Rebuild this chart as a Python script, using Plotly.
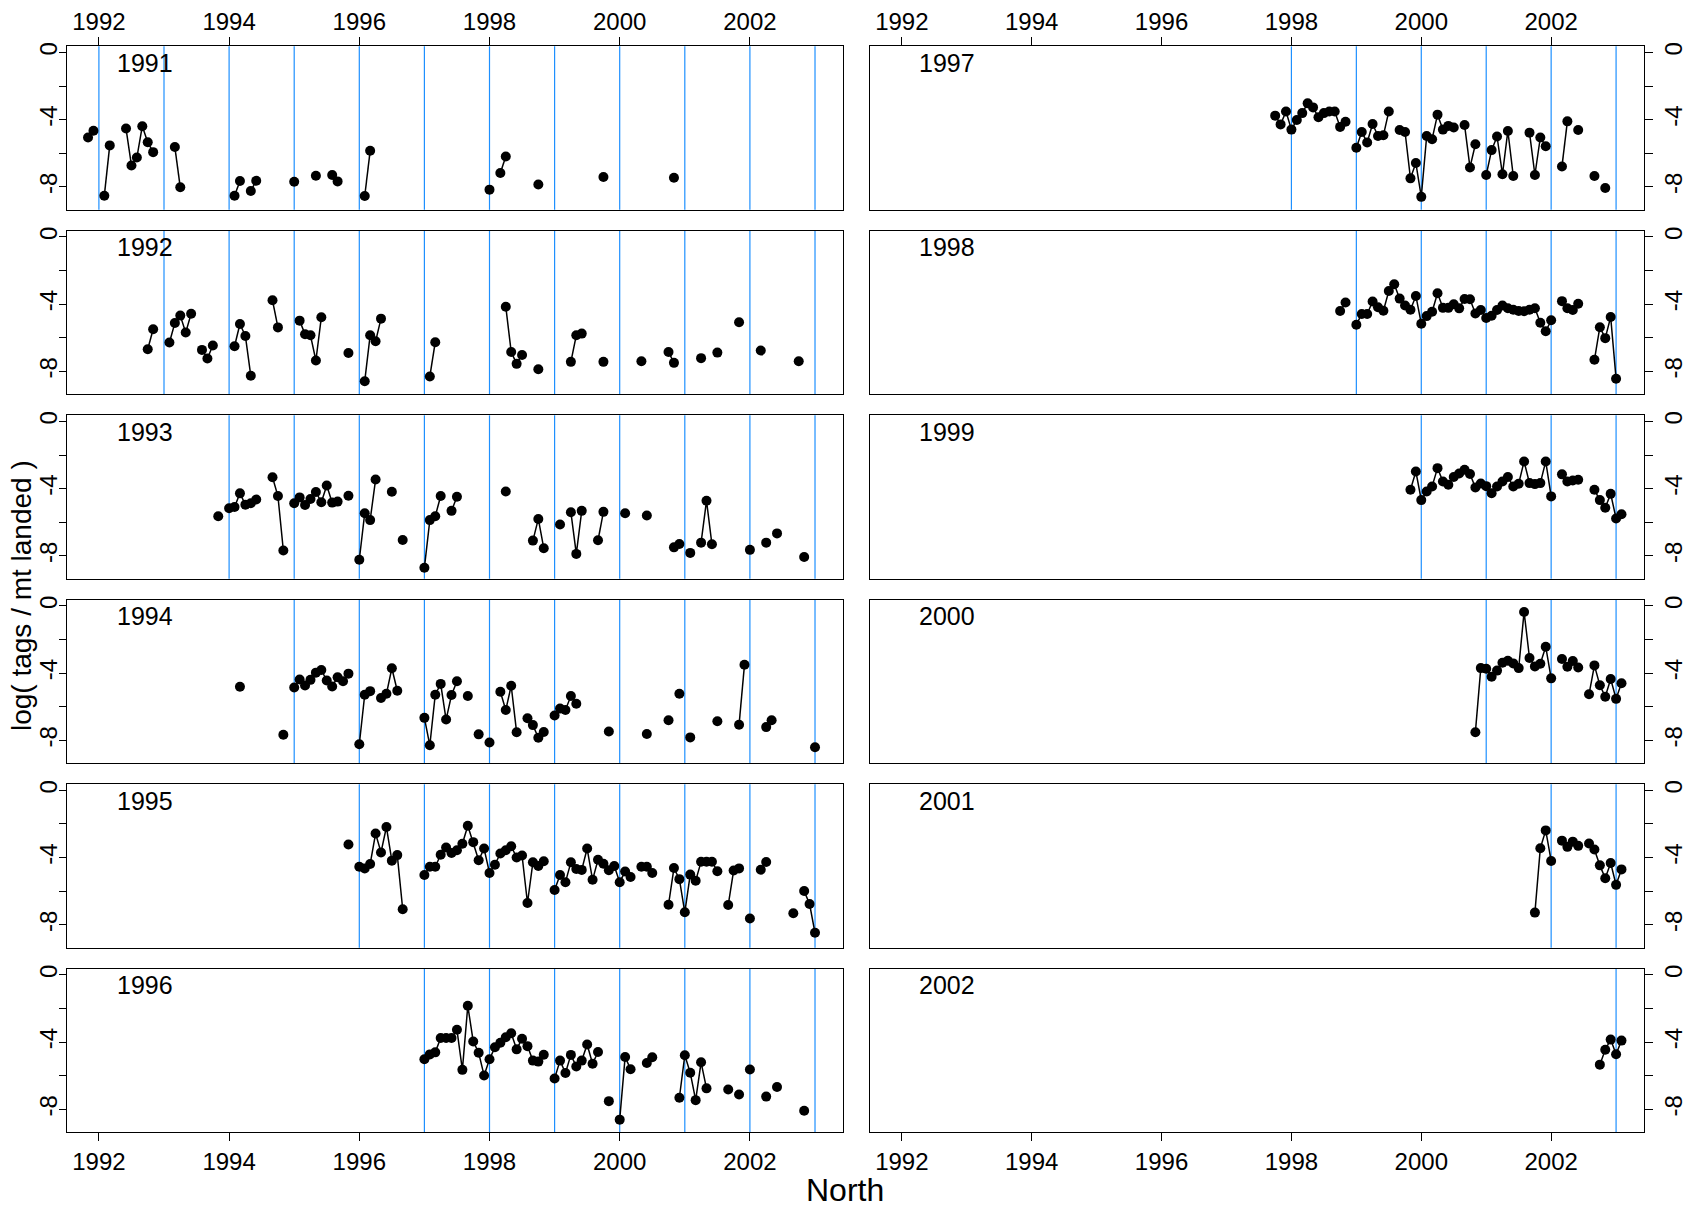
import plotly.graph_objects as go

# ---------------- data ----------------
# months are counted from January 1992 (0 = Jan 1992, 12 = Jan 1993, ...)
release_years = [1991, 1992, 1993, 1994, 1995, 1996, 1997, 1998, 1999, 2000, 2001, 2002]

mon_1991 = [-2, -1, 1, 2, 5, 6, 7, 8, 9, 10, 14, 15, 25, 26, 28, 29, 36, 40, 43, 44, 49, 50, 72, 74, 75, 81, 93, 106]
val_1991 = [-5.06, -4.66, -8.52, -5.53, -4.53, -6.72, -6.25, -4.39, -5.34, -5.93, -5.63, -8.02, -8.52, -7.65,
            -8.24, -7.63, -7.69, -7.33, -7.29, -7.67, -8.54, -5.85, -8.16, -7.17, -6.19, -7.85, -7.41, -7.45]

mon_1992 = [9, 10, 13, 14, 15, 16, 17, 19, 20, 21, 25, 26, 27, 28, 32, 33, 37, 38, 39, 40, 41, 46, 49, 50, 51, 52,
            61, 62, 75, 76, 77, 78, 81, 87, 88, 89, 93, 100, 105, 106, 111, 114, 118, 122, 129]
val_1992 = [-6.68, -5.49, -6.28, -5.12, -4.68, -5.69, -4.57, -6.72, -7.23, -6.46, -6.50, -5.18, -5.89, -8.26,
            -3.77, -5.38, -4.98, -5.79, -5.85, -7.35, -4.78, -6.90, -8.58, -5.85, -6.21, -4.86, -8.30, -6.26,
            -4.15, -6.84, -7.55, -7.02, -7.87, -7.43, -5.85, -5.75, -7.43, -7.39, -6.84, -7.49, -7.21, -6.88,
            -5.08, -6.76, -7.39]

mon_1993 = [22, 24, 25, 26, 27, 28, 29, 32, 33, 34, 36, 37, 38, 39, 40, 41, 42, 43, 44, 46, 48, 49, 50, 51, 54, 56,
            60, 61, 62, 63, 65, 66, 75, 80, 81, 82, 85, 87, 88, 89, 92, 93, 97, 101, 106, 107, 109, 111, 112, 113,
            120, 123, 125, 130]
val_1993 = [-5.64, -5.17, -5.09, -4.28, -4.95, -4.87, -4.64, -3.32, -4.44, -7.68, -4.87, -4.52, -4.97, -4.62,
            -4.20, -4.81, -3.81, -4.83, -4.77, -4.42, -8.23, -5.46, -5.87, -3.46, -4.18, -7.05, -8.70, -5.87,
            -5.64, -4.44, -5.32, -4.48, -4.17, -7.09, -5.80, -7.54, -6.13, -5.40, -7.88, -5.32, -7.07, -5.38,
            -5.46, -5.60, -7.49, -7.29, -7.82, -7.21, -4.72, -7.31, -7.64, -7.21, -6.66, -8.06]

mon_1994 = [26, 34, 36, 37, 38, 39, 40, 41, 42, 43, 44, 45, 46, 48, 49, 50, 52, 53, 54, 55, 60, 61, 62, 63, 64, 65,
            66, 68, 70, 72, 74, 75, 76, 77, 79, 80, 81, 82, 84, 85, 86, 87, 88, 94, 101, 105, 107, 109, 114, 118,
            119, 123, 124, 132]
val_1994 = [-4.81, -7.66, -4.85, -4.38, -4.73, -4.40, -3.97, -3.81, -4.44, -4.79, -4.24, -4.48, -4.03, -8.23,
            -5.28, -5.07, -5.48, -5.23, -3.71, -5.05, -6.66, -8.29, -5.28, -4.64, -6.76, -5.30, -4.48, -5.36,
            -7.64, -8.13, -5.11, -6.19, -4.75, -7.52, -6.68, -7.09, -7.84, -7.50, -6.52, -6.11, -6.19, -5.36,
            -5.82, -7.47, -7.62, -6.80, -5.23, -7.82, -6.86, -7.07, -3.50, -7.21, -6.80, -8.41]

mon_1995 = [46, 48, 49, 50, 51, 52, 53, 54, 55, 56, 60, 61, 62, 63, 64, 65, 66, 67, 68, 69, 70, 71, 72, 73, 74, 75,
            76, 77, 78, 79, 80, 81, 82, 84, 85, 86, 87, 88, 89, 90, 91, 92, 93, 94, 95, 96, 97, 98, 100, 101, 102,
            105, 106, 107, 108, 109, 110, 111, 112, 113, 114, 116, 117, 118, 120, 122, 123, 128, 130, 131, 132]
val_1995 = [-3.22, -4.54, -4.64, -4.38, -2.57, -3.69, -2.18, -4.18, -3.85, -7.07, -5.03, -4.54, -4.54, -3.83,
            -3.40, -3.73, -3.56, -3.18, -2.10, -3.08, -4.16, -3.46, -4.91, -4.42, -3.75, -3.56, -3.32, -3.99,
            -3.87, -6.70, -4.28, -4.50, -4.22, -5.93, -5.03, -5.46, -4.28, -4.68, -4.73, -3.46, -5.32, -4.13,
            -4.36, -4.75, -4.50, -5.46, -4.83, -5.15, -4.54, -4.54, -4.91, -6.80, -4.62, -5.28, -7.25, -5.01,
            -5.38, -4.24, -4.24, -4.24, -4.81, -6.82, -4.77, -4.64, -7.62, -4.72, -4.26, -7.31, -5.99, -6.76,
            -8.47]

mon_1996 = [60, 61, 62, 63, 64, 65, 66, 67, 68, 69, 70, 71, 72, 73, 74, 75, 76, 77, 78, 79, 80, 81, 82, 84, 85, 86,
            87, 88, 89, 90, 91, 92, 94, 96, 97, 98, 101, 102, 107, 108, 109, 110, 111, 112, 116, 118, 120, 123,
            125, 130]
val_1996 = [-5.02, -4.73, -4.61, -3.76, -3.76, -3.76, -3.27, -5.65, -1.84, -3.96, -4.63, -5.98, -5.02, -4.31,
            -4.04, -3.71, -3.47, -4.43, -3.80, -4.24, -5.10, -5.16, -4.75, -6.16, -5.10, -5.84, -4.76, -5.45,
            -5.10, -4.14, -5.29, -4.59, -7.51, -8.61, -4.88, -5.61, -5.24, -4.90, -7.31, -4.78, -5.82, -7.45,
            -5.20, -6.75, -6.82, -7.12, -5.63, -7.24, -6.67, -8.08]

mon_1997 = [69, 70, 71, 72, 73, 74, 75, 76, 77, 78, 79, 80, 81, 82, 84, 85, 86, 87, 88, 89, 90, 92, 93, 94, 95, 96,
            97, 98, 99, 100, 101, 102, 104, 105, 106, 108, 109, 110, 111, 112, 113, 116, 117, 118, 119, 122, 123,
            125, 128, 130]
val_1997 = [-3.76, -4.28, -3.51, -4.59, -4.02, -3.61, -3.03, -3.27, -3.86, -3.61, -3.51, -3.51, -4.43, -4.12,
            -5.67, -4.73, -5.36, -4.26, -4.97, -4.93, -3.51, -4.61, -4.73, -7.49, -6.58, -8.59, -4.97, -5.16,
            -3.70, -4.59, -4.37, -4.47, -4.32, -6.84, -5.46, -7.29, -5.81, -5.00, -7.25, -4.67, -7.35, -4.77,
            -7.29, -5.06, -5.58, -6.78, -4.10, -4.61, -7.35, -8.06]

mon_1998 = [81, 82, 84, 85, 86, 87, 88, 89, 90, 91, 92, 93, 94, 95, 96, 97, 98, 99, 100, 101, 102, 103, 104, 105,
            106, 107, 108, 109, 110, 111, 112, 113, 114, 115, 116, 117, 118, 119, 120, 122, 123, 124, 125, 128,
            129, 130, 131, 132]
val_1998 = [-4.41, -3.90, -5.22, -4.59, -4.59, -3.84, -4.18, -4.39, -3.22, -2.82, -3.67, -4.08, -4.33, -3.51,
            -5.16, -4.71, -4.45, -3.35, -4.22, -4.22, -4.00, -4.25, -3.69, -3.71, -4.55, -4.35, -4.82, -4.69,
            -4.35, -4.08, -4.24, -4.33, -4.41, -4.42, -4.33, -4.24, -5.10, -5.61, -4.96, -3.82, -4.24, -4.35,
            -3.98, -7.31, -5.37, -6.02, -4.76, -8.43]

mon_1999 = [94, 95, 96, 97, 98, 99, 100, 101, 102, 103, 104, 105, 106, 107, 108, 109, 110, 111, 112, 113, 114,
            115, 116, 117, 118, 119, 120, 122, 123, 124, 125, 128, 129, 130, 131, 132, 133]
val_1999 = [-4.07, -2.98, -4.68, -4.17, -3.87, -2.78, -3.57, -3.77, -3.31, -3.10, -2.88, -3.13, -3.93, -3.69,
            -3.85, -4.27, -3.87, -3.57, -3.31, -3.87, -3.71, -2.38, -3.67, -3.73, -3.67, -2.38, -4.46, -3.15,
            -3.57, -3.51, -3.47, -4.07, -4.68, -5.14, -4.31, -5.77, -5.52]

mon_2000 = [106, 107, 108, 109, 110, 111, 112, 113, 114, 115, 116, 117, 118, 119, 120, 122, 123, 124, 125, 127,
            128, 129, 130, 131, 132, 133]
val_2000 = [-7.51, -3.70, -3.74, -4.21, -3.85, -3.38, -3.26, -3.42, -3.70, -0.36, -3.10, -3.60, -3.44, -2.43,
            -4.31, -3.16, -3.62, -3.28, -3.66, -5.26, -3.54, -4.72, -5.40, -4.35, -5.53, -4.60]

mon_2001 = [117, 118, 119, 120, 122, 123, 124, 125, 127, 128, 129, 130, 131, 132, 133]
val_2001 = [-7.27, -3.44, -2.38, -4.20, -2.99, -3.36, -3.05, -3.30, -3.16, -3.52, -4.46, -5.23, -4.32, -5.62,
            -4.70]

mon_2002 = [129, 130, 131, 132, 133]
val_2002 = [-5.34, -4.45, -3.85, -4.72, -3.91]

series_months = [mon_1991, mon_1992, mon_1993, mon_1994, mon_1995, mon_1996,
                 mon_1997, mon_1998, mon_1999, mon_2000, mon_2001, mon_2002]
series_values = [val_1991, val_1992, val_1993, val_1994, val_1995, val_1996,
                 val_1997, val_1998, val_1999, val_2000, val_2001, val_2002]

last_year_line = 2003
x_tick_vals = [1992, 1994, 1996, 1998, 2000, 2002]
x_tick_text = ["1992", "1994", "1996", "1998", "2000", "2002"]
y_tick_vals = [0, -2, -4, -6, -8]
y_tick_text = ["0", "", "-4", "", "-8"]
y_title = "log( tags / mt landed )"
x_title = "North"

# ---------------- layout ----------------
W, H = 1690, 1207
FONT = "Liberation Sans, Arial, Helvetica, sans-serif"
col_x = [(67, 843), (870, 1644)]
row_top0, row_pitch, row_h = 42.5, 185.1, 164.0
x_range = [1991.51, 2003.43]
y_range = [-9.36, 0.36]
BLUE = "#1E90FF"
TICK_SIZE = 24


def to_xy(months, vals):
    xs, ys = [], []
    prev = None
    for m, v in zip(months, vals):
        if prev is not None and m - prev > 1:
            xs.append(None)
            ys.append(None)
        xs.append(1992 + m / 12.0)
        ys.append(v)
        prev = m
    return xs, ys


fig = go.Figure()
layout = dict(
    width=W, height=H,
    margin=dict(l=0, r=0, t=0, b=0),
    paper_bgcolor="white", plot_bgcolor="white",
    showlegend=False,
    font=dict(family=FONT, color="black", size=22),
)
shapes = []
annotations = []

for k, ry in enumerate(release_years):
    col = k // 6
    row = k % 6
    idx = k + 1
    xa = "x" if idx == 1 else f"x{idx}"
    ya = "y" if idx == 1 else f"y{idx}"
    xkey = "xaxis" if idx == 1 else f"xaxis{idx}"
    ykey = "yaxis" if idx == 1 else f"yaxis{idx}"

    x0, x1 = col_x[col]
    top = row_top0 + row * row_pitch
    bot = top + row_h

    xs, ys = to_xy(series_months[k], series_values[k])
    fig.add_trace(go.Scatter(
        x=xs, y=ys, mode="lines+markers", xaxis=xa, yaxis=ya,
        line=dict(color="black", width=1.5),
        marker=dict(color="black", size=10),
        connectgaps=False, hoverinfo="skip",
    ))

    if row == 0:
        xside, xticks, xlabels, xstand = "top", "outside", True, -2
    elif row == 5:
        xside, xticks, xlabels, xstand = "bottom", "outside", True, 0
    else:
        xside, xticks, xlabels, xstand = "bottom", "", False, 0

    layout[xkey] = dict(
        domain=[x0 / W, x1 / W], anchor=ya, range=x_range, side=xside,
        showline=True, mirror=True, linecolor="black", linewidth=1.3,
        showgrid=False, zeroline=False,
        ticks=xticks, ticklen=8, tickwidth=1.3, tickcolor="black",
        tickvals=x_tick_vals, ticktext=x_tick_text, showticklabels=xlabels,
        ticklabelstandoff=xstand,
        tickfont=dict(family=FONT, size=TICK_SIZE, color="black"),
    )
    layout[ykey] = dict(
        domain=[1 - bot / H, 1 - top / H], anchor=xa, range=y_range,
        side="left" if col == 0 else "right",
        showline=True, mirror=True, linecolor="black", linewidth=1.3,
        showgrid=False, zeroline=False,
        ticks="outside", ticklen=7 if col == 0 else 8, tickwidth=1.3, tickcolor="black",
        tickvals=y_tick_vals, ticktext=y_tick_text, tickangle=-90,
        ticklabelstandoff=-8 if col == 0 else 0,
        tickfont=dict(family=FONT, size=TICK_SIZE, color="black"),
    )

    for yr in range(ry + 1, last_year_line + 1):
        shapes.append(dict(
            type="line", xref=xa, yref=f"{ya} domain", x0=yr, x1=yr, y0=0, y1=1,
            line=dict(color=BLUE, width=1.2), layer="below",
        ))

    annotations.append(dict(
        xref=xa, yref=ya, x=1992.24, y=-0.62, text=str(ry), showarrow=False,
        xanchor="left", yanchor="middle",
        font=dict(family=FONT, size=25, color="black"),
    ))

annotations.append(dict(
    xref="paper", yref="paper", x=21 / W, y=1 - 594 / H, text=y_title, showarrow=False,
    textangle=-90, xanchor="center", yanchor="middle",
    font=dict(family=FONT, size=28, color="black"),
))
annotations.append(dict(
    xref="paper", yref="paper", x=845 / W, y=-3 / H, text=x_title, showarrow=False,
    xanchor="center", yanchor="bottom",
    font=dict(family=FONT, size=32, color="black"),
))

layout["shapes"] = shapes
layout["annotations"] = annotations
fig.update_layout(**layout)

fig.write_html("out.html")
